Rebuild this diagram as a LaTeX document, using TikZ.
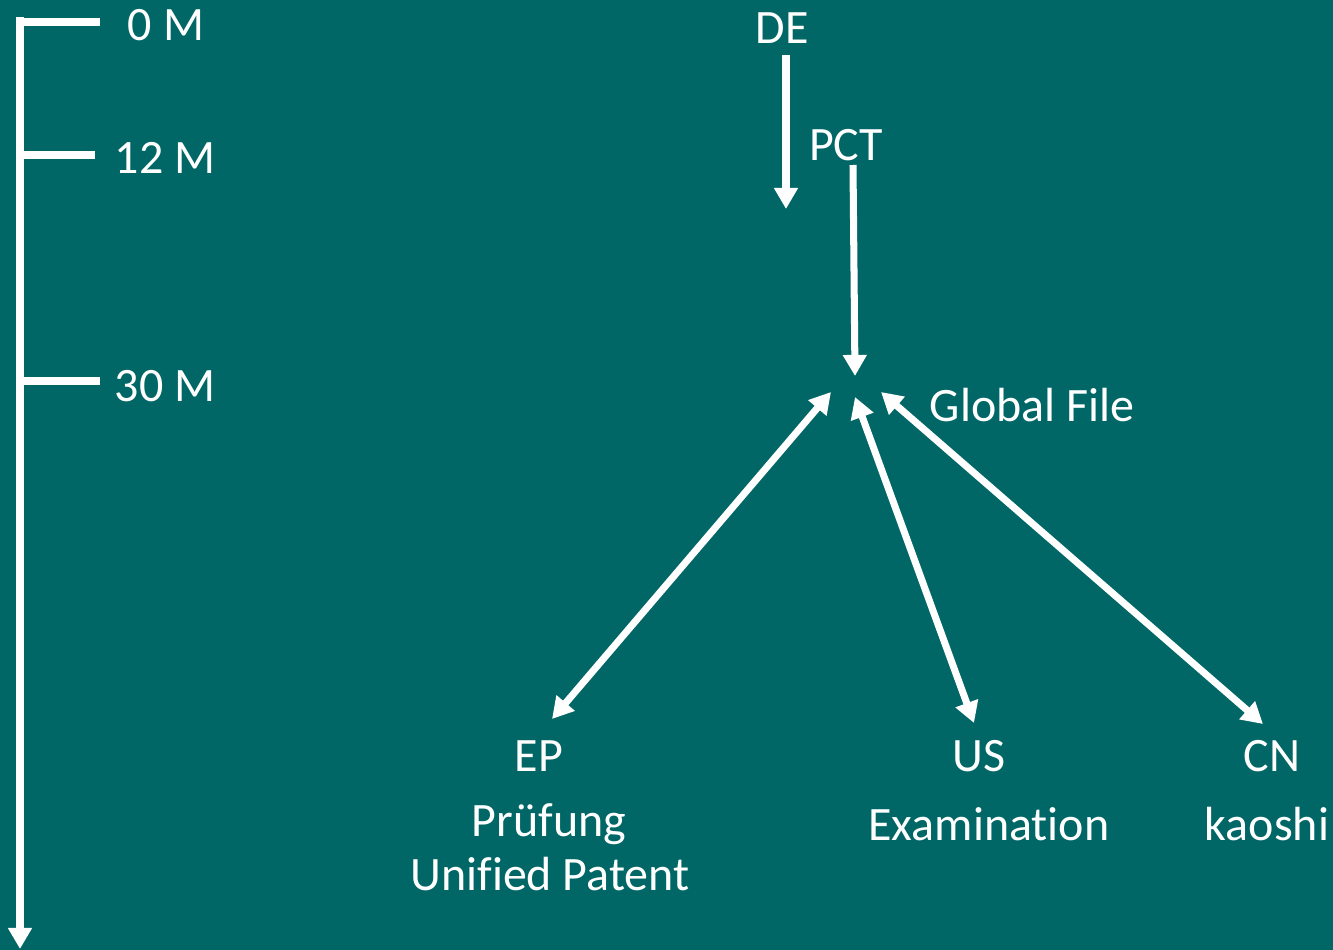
\documentclass[tikz,border=0pt]{standalone}
\usepackage{fontspec}
\setmainfont[Ligatures=NoCommon]{Carlito}
\usetikzlibrary{arrows.meta}
\definecolor{teal}{HTML}{006766}
\tikzset{
	lbl/.style={text=white, font=\fontsize{27.3}{31}\selectfont, inner sep=0pt},
	wline/.style={white, line width=4pt},
	warrow/.style={wline, -{Triangle[width=13pt, length=12pt]}},
	wdouble/.style={wline, {Triangle[width=13pt, length=12pt]}-{Triangle[width=13pt, length=12pt]}},
}
\begin{document}
\begin{tikzpicture}[x=0.02cm, y=-0.02cm]
		\fill[teal] (0, 0) rectangle (1333, 950);
		\useasboundingbox (0, 0) rectangle (1333, 950);

		% zeitachse
		\coordinate (t0) at (20, 17);
		\coordinate (tend) at (20, 949);
		\draw[warrow] (t0) -- (tend);

		\coordinate (k1) at (20, 22);
		\coordinate (k2) at (20, 155);
		\coordinate (k3) at (20, 381);
		\coordinate (e1) at (100, 22);
		\coordinate (e2) at (95, 155);
		\coordinate (e3) at (100, 381);
		\draw[wline] (k1) -- (e1);
		\draw[wline] (k2) -- (e2);
		\draw[wline] (k3) -- (e3);

		\node[lbl] (m0) at (166, 25) {0 M};
		\node[lbl] (m12) at (165, 158) {12 M};
		\node[lbl] (m30) at (165, 386) {30 M};

		% anmeldungen
		\node[lbl] (de) at (782, 28) {DE};
		\node[lbl] (pct) at (846, 145) {PCT};
		\node[lbl] (gf) at (1032, 405) {Global File};

		\coordinate (a1) at (786, 55);
		\coordinate (a2) at (786, 209);
		\draw[warrow] (a1) -- (a2);

		\coordinate (p1) at (853, 165);
		\coordinate (p2) at (855, 376);
		\draw[warrow] (p1) -- (p2);

		\coordinate (g1) at (831, 392);
		\coordinate (g2) at (855, 397);
		\coordinate (g3) at (881, 392);
		\coordinate (r1) at (552, 719);
		\coordinate (r2) at (974, 723);
		\coordinate (r3) at (1263, 724);
		\draw[wdouble] (g1) -- (r1);
		\draw[wdouble] (g2) -- (r2);
		\draw[wdouble] (g3) -- (r3);

		\node[lbl] (ep) at (539, 756) {EP};
		\node[lbl] (ep1) at (549, 824) {Prüfung};
		\node[lbl] (ep2) at (550, 874) {Unified Patent};
		\node[lbl] (us) at (979, 756) {US};
		\node[lbl] (us1) at (989, 824) {Examination};
		\node[lbl] (cn) at (1272, 756) {CN};
		\node[lbl] (cn1) at (1267, 824) {kaoshi};
	\end{tikzpicture}
\end{document}
